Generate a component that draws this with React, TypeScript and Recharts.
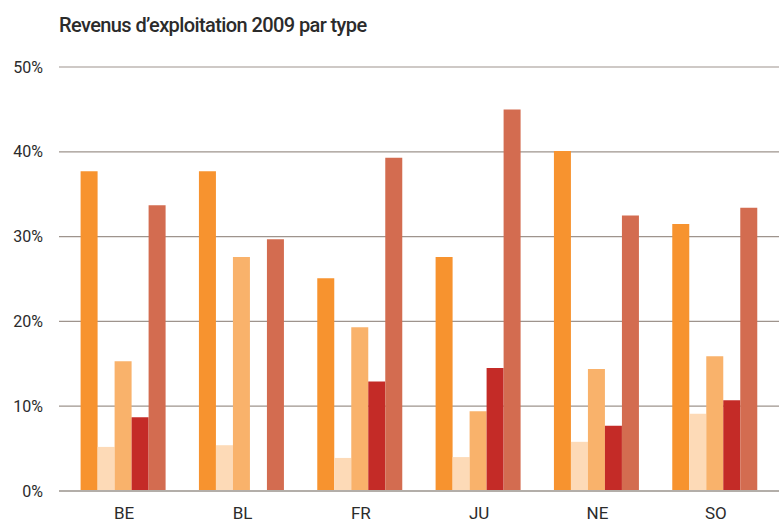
import { BarChart, Bar, XAxis, YAxis, CartesianGrid, ReferenceLine } from 'recharts'

// Revenus d'exploitation 2009, part de chaque type (%) par canton
const cantons = ['BE', 'BL', 'FR', 'JU', 'NE', 'SO']
const type1 = [37.7, 37.7, 25.1, 27.6, 40.1, 31.5]
const type2 = [5.2, 5.4, 3.9, 4.0, 5.8, 9.1]
const type3 = [15.3, 27.6, 19.3, 9.4, 14.4, 15.9]
const type4 = [8.7, 0, 12.9, 14.5, 7.7, 10.7]
const type5 = [33.7, 29.7, 39.3, 45.0, 32.5, 33.4]
const yTicks = [0, 10, 20, 30, 40, 50]

const series = [
  { key: 'type1', values: type1, color: '#f7932f' },
  { key: 'type2', values: type2, color: '#fddab7' },
  { key: 'type3', values: type3, color: '#f9b26b' },
  { key: 'type4', values: type4, color: '#c42b27' },
  { key: 'type5', values: type5, color: '#d36c50' },
]

const data = cantons.map((c, i) => {
  const row: Record<string, string | number> = { canton: c }
  series.forEach(s => {
    row[s.key] = s.values[i]
  })
  return row
})

const FONT = 'Roboto, "Liberation Sans", Arial, sans-serif'

export default function App() {
  return (
    <div
      style={{
        position: 'absolute',
        left: 0,
        top: 0,
        width: 779,
        height: 519,
        overflow: 'hidden',
        background: '#fff',
        fontFamily: FONT,
      }}
    >
      <BarChart
        width={779}
        height={540}
        data={data}
        margin={{ top: 67, right: 0, bottom: 19, left: 0 }}
        barCategoryGap={15.6}
        barGap={0}
        style={{ position: 'absolute', left: 0, top: 0 }}
      >
        <CartesianGrid vertical={false} stroke="#9e948d" strokeWidth={1.2} />
        <XAxis
          dataKey="canton"
          height={30}
          axisLine={false}
          tickLine={false}
          tickSize={0}
          tickMargin={16}
          padding={{ left: 6, right: 4 }}
          tick={{ fill: '#2b2b2b', fontSize: 17, fontFamily: FONT }}
        />
        <YAxis
          width={59}
          domain={[0, 50]}
          ticks={yTicks}
          tickFormatter={v => `${v}%`}
          axisLine={false}
          tickLine={false}
          tickSize={0}
          tickMargin={16}
          tick={{ fill: '#2b2b2b', fontSize: 16, fontFamily: FONT }}
        />
        {series.map(s => (
          <Bar key={s.key} dataKey={s.key} fill={s.color} isAnimationActive={false} />
        ))}
        <ReferenceLine y={0} stroke="#b3aea9" strokeWidth={2} />
      </BarChart>
      <div
        style={{
          position: 'absolute',
          left: 59,
          top: 15,
          fontSize: 20,
          lineHeight: '20px',
          fontWeight: 500,
          letterSpacing: -0.6,
          color: '#2b2b2b',
          whiteSpace: 'nowrap',
        }}
      >
        Revenus d’exploitation 2009 par type
      </div>
    </div>
  )
}
